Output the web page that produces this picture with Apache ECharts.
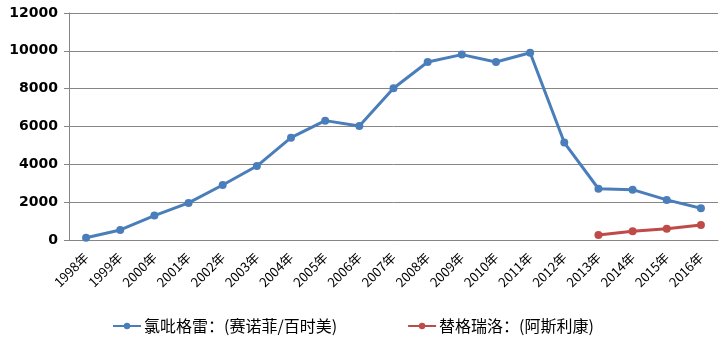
<!DOCTYPE html>
<html style="height: 100%">
<head>
    <meta charset="utf-8">
    <title>氯吡格雷 / 替格瑞洛</title>
</head>
<body style="height: 100%; margin: 0">
    <div id="container" style="width: 727px; height: 351px"></div>
    <script src="https://cdn.jsdelivr.net/npm/echarts@6/dist/echarts.min.js"></script>
    <script type="text/javascript">
        var years = ['1998年', '1999年', '2000年', '2001年', '2002年', '2003年', '2004年', '2005年', '2006年', '2007年',
            '2008年', '2009年', '2010年', '2011年', '2012年', '2013年', '2014年', '2015年', '2016年'];
        var clopidogrel = [120, 530, 1290, 1960, 2910, 3910, 5410, 6310, 6030, 8020,
            9410, 9800, 9410, 9900, 5150, 2710, 2660, 2120, 1680];
        var ticagrelor = [null, null, null, null, null, null, null, null, null, null,
            null, null, null, null, null, 260, 460, 600, 790];
        var yTicks = [0, 2000, 4000, 6000, 8000, 10000, 12000];

        var myChart = echarts.init(document.getElementById('container'));
        var gray = '#868686';

        var option = {
            animation: false,
            grid: { left: 69, right: 9, top: 13, bottom: 111 },
            legend: {
                bottom: 12,
                left: 107,
                itemGap: 70,
                itemWidth: 28,
                itemHeight: 8,
                textStyle: { fontFamily: 'Noto Sans CJK SC', fontSize: 16, color: '#000', padding: [0, 0, 0, -2] },
                data: ['氯吡格雷：(赛诺菲/百时美)', '替格瑞洛：(阿斯利康)']
            },
            xAxis: {
                type: 'category',
                data: years,
                boundaryGap: true,
                axisLine: { lineStyle: { color: gray, width: 1 } },
                axisTick: { length: 5, lineStyle: { color: gray } },
                axisLabel: {
                    rotate: 45,
                    interval: 0,
                    color: '#000',
                    fontSize: 13,
                    fontFamily: 'Noto Sans CJK SC',
                    margin: 15
                }
            },
            yAxis: {
                type: 'value',
                min: yTicks[0],
                max: yTicks[yTicks.length - 1],
                interval: 2000,
                axisLine: { show: true, lineStyle: { color: gray } },
                axisTick: { show: true, length: 5, lineStyle: { color: gray } },
                splitLine: { lineStyle: { color: gray, width: 1 } },
                axisLabel: {
                    color: '#000',
                    fontSize: 14,
                    fontWeight: 'bold',
                    fontFamily: 'DejaVu Sans',
                    margin: 11,
                    formatter: function (v) { return String(v); }
                }
            },
            series: [{
                name: '氯吡格雷：(赛诺菲/百时美)',
                type: 'line',
                data: clopidogrel,
                symbol: 'circle',
                symbolSize: 8,
                color: '#4a7ebb',
                lineStyle: { width: 3 }
            }, {
                name: '替格瑞洛：(阿斯利康)',
                type: 'line',
                data: ticagrelor,
                symbol: 'circle',
                symbolSize: 8,
                color: '#be4b48',
                lineStyle: { width: 3 }
            }]
        };
        myChart.setOption(option);
    </script>
</body>
</html>
